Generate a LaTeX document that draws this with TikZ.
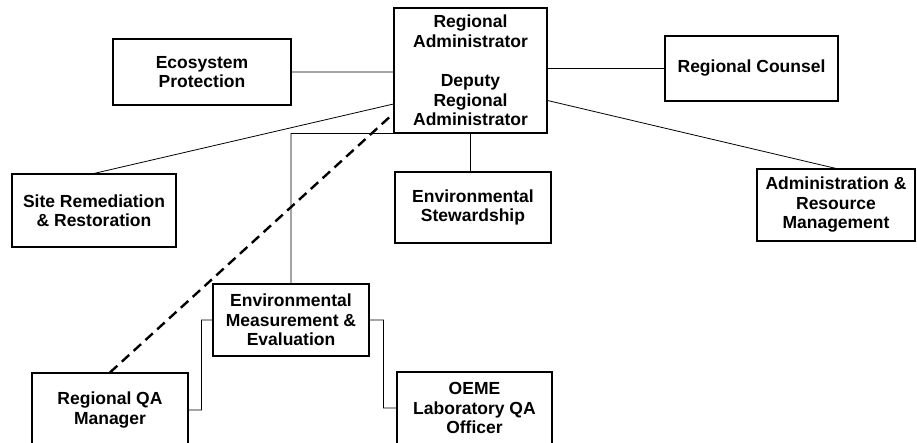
\documentclass[tikz,border=0pt]{standalone}
\usepackage{fontspec}
\setmainfont{Liberation Sans}
\usetikzlibrary{calc}

\begin{document}
\begin{tikzpicture}[x=1pt,y=-1pt,
    office/.style={draw, rectangle, line width=1.1pt, align=center, inner sep=0pt,
      font=\bfseries\fontsize{17.5}{19.5}\selectfont},
    link/.style={line width=0.8pt},
    qa/.style={line width=2.4pt, dash pattern=on 10pt off 6pt}]
  \useasboundingbox (0,0) rectangle (917,442);
  \clip (0,0) rectangle (917,442);

  \node[office, minimum width=153pt, minimum height=125pt] (ra)      at (470.5,70.5) {Regional\\Administrator\\[20pt]Deputy\\Regional\\Administrator};
  \node[office, minimum width=178pt, minimum height=66pt]  (eco)     at (202,72)     {Ecosystem\\Protection};
  \node[office, minimum width=173pt, minimum height=65pt]  (counsel) at (751.5,68.5) {Regional Counsel};
  \node[office, minimum width=164pt, minimum height=73pt]  (site)    at (94,210.5)   {Site Remediation\\\& Restoration};
  \node[office, minimum width=156pt, minimum height=71pt]  (stew)    at (473,207.5)  {Environmental\\Stewardship};
  \node[office, minimum width=158pt, minimum height=72pt]  (admin)   at (836,205)    {Administration \&\\Resource\\Management};
  \node[office, minimum width=156pt, minimum height=72pt]  (eme)     at (291,320)    {Environmental\\Measurement \&\\Evaluation};
  \node[office, minimum width=156pt, minimum height=74pt]  (rqa)     at (110,410)    {Regional QA\\Manager};
  \node[office, minimum width=155pt, minimum height=72pt]  (oeme)    at (474.5,408)  {OEME\\Laboratory QA\\Officer};

  \draw[link] (eco.east) -- (eco.east -| ra.west)
              (ra.east |- counsel.west) -- (counsel.west)
              (site.north) -- ([yshift=-33.5pt]ra.west)
              ([yshift=-30pt]ra.east) -- (admin.north)
              (ra.south) -- (ra.south |- stew.north)
              (ra.south west) -- (ra.south west -| eme.north) -- (eme.north)
              (eme.west) -- ++(-11,0) |- (rqa.east)
              (eme.east) -- ++(14,0) |- (oeme.west);
  \draw[qa] (rqa.north) -- ([yshift=-43pt]ra.west);
\end{tikzpicture}
\end{document}
